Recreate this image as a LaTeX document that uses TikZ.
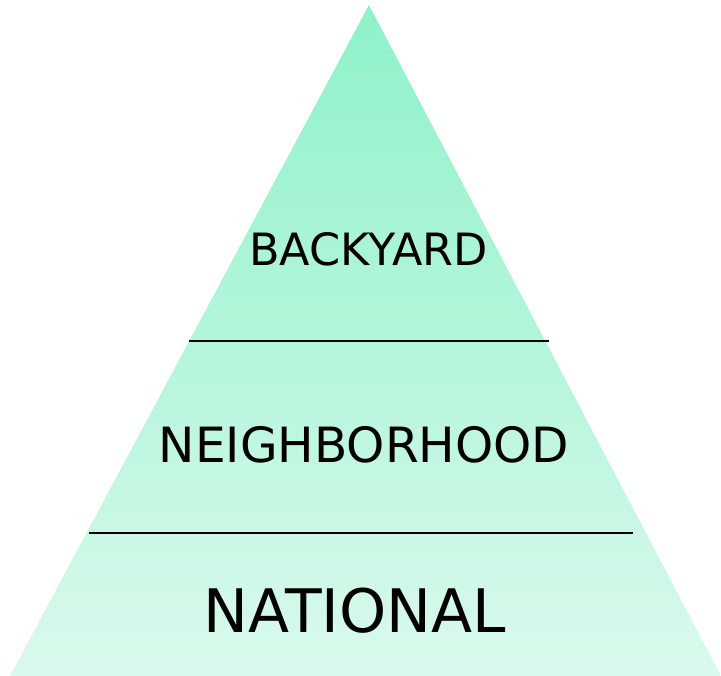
\documentclass[tikz,border=0pt]{standalone}
\usepackage{fontspec}
\setmainfont{DejaVu Sans}
\definecolor{pyrtop}{HTML}{8EF2C9}
\definecolor{pyrbot}{HTML}{DAF9EC}
\tikzset{
  level/.style={inner sep=0pt, text=black},
  divider/.style={black, line width=1.5pt}
}
\begin{document}
\begin{tikzpicture}[x=1pt, y=-1pt]
    \useasboundingbox (0,0) rectangle (721,676);
    % pyramid body
    \shade[top color=pyrtop, bottom color=pyrbot] (369,5) -- (721,676) -- (10,676) -- cycle;
    % dividers
    \draw[divider] (189,341) -- (549,341);
    \draw[divider] (89,533) -- (633,533);
    % levels
    \node[level, font=\fontsize{44.5}{50}\selectfont] (backyard) at (368.5,249.5) {BACKYARD};
    \node[level, font=\fontsize{48.6}{56}\selectfont] (neighborhood) at (364,445) {NEIGHBORHOOD};
    \node[level, font=\fontsize{60}{68}\selectfont] (national) at (355,611) {NATIONAL};
\end{tikzpicture}
\end{document}
